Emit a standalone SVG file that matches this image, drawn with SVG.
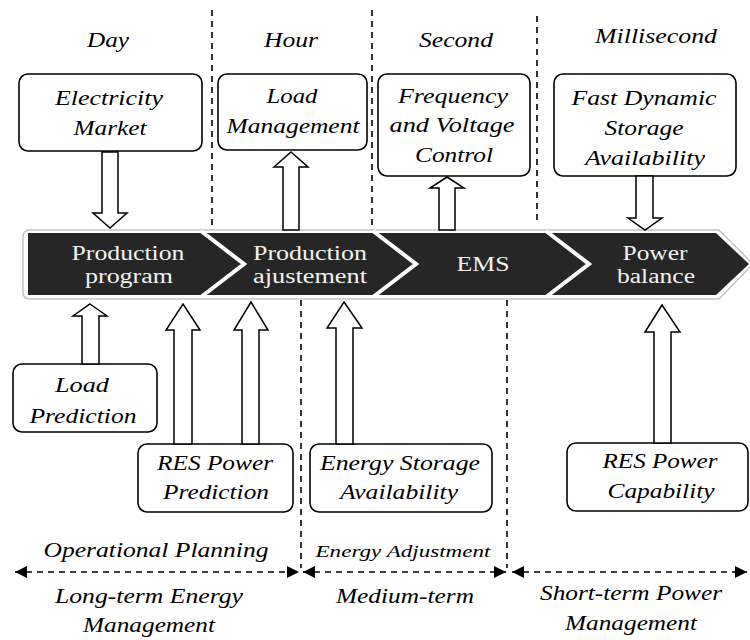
<svg xmlns="http://www.w3.org/2000/svg" width="750" height="640" viewBox="0 0 750 640" font-family="Liberation Serif">
<defs>
<style>
.box{fill:#fff;stroke:#000;stroke-width:1.6}
.t{font-style:italic;font-size:21px;fill:#000;text-anchor:middle}
.s{font-size:17px}
.b{font-size:20px;fill:#f2f2f2;text-anchor:middle}
.arr{fill:#fff;stroke:#000;stroke-width:1.5;stroke-linejoin:miter}
.dash{stroke:#000;stroke-width:1.6;stroke-dasharray:6 5;fill:none}
.sep{fill:none;stroke:#fff;stroke-width:4;stroke-linejoin:miter}
</style>
<marker id="ah" viewBox="0 0 10 10" refX="10" refY="5" markerWidth="13" markerHeight="12" markerUnits="userSpaceOnUse" orient="auto-start-reverse">
<path d="M0,0 L10,5 L0,10 Z" fill="#000"/>
</marker>
</defs>
<rect width="750" height="640" fill="#fff"/>

<g id="timescales" font-family="Liberation Serif">
<text class="t" x="108" y="47" textLength="42" lengthAdjust="spacingAndGlyphs">Day</text>
<text class="t" x="291" y="47" textLength="54" lengthAdjust="spacingAndGlyphs">Hour</text>
<text class="t" x="456" y="47" textLength="74" lengthAdjust="spacingAndGlyphs">Second</text>
<text class="t" x="656" y="43" textLength="122" lengthAdjust="spacingAndGlyphs">Millisecond</text>
</g>

<g id="band">
<path d="M30,230 L719,230 L753,264 L719,299 L30,299 Q23,299 23,292 L23,237 Q23,230 30,230 Z" fill="#fff" stroke="#c4c4c4" stroke-width="1.5"/>
<path d="M28,233 L716,233 L749,264 L716,295 L28,295 Z" fill="#262626"/>
<polyline class="sep" points="201,231 244,264 201,297"/>
<polyline class="sep" points="373,231 416,264 373,297"/>
<polyline class="sep" points="546,231 589,264 546,297"/>
</g>

<g id="production-program" font-family="Liberation Serif">
<text class="b" x="128" y="260" textLength="113" lengthAdjust="spacingAndGlyphs">Production</text>
<text class="b" x="129" y="283" textLength="88" lengthAdjust="spacingAndGlyphs">program</text>
</g>
<g id="production-ajustement" font-family="Liberation Serif">
<text class="b" x="310" y="260" textLength="114" lengthAdjust="spacingAndGlyphs">Production</text>
<text class="b" x="310" y="283" textLength="114" lengthAdjust="spacingAndGlyphs">ajustement</text>
</g>
<g id="ems" font-family="Liberation Serif">
<text class="b" x="483" y="271" textLength="53" lengthAdjust="spacingAndGlyphs">EMS</text>
</g>
<g id="power-balance" font-family="Liberation Serif">
<text class="b" x="655" y="260" textLength="65" lengthAdjust="spacingAndGlyphs">Power</text>
<text class="b" x="656" y="283" textLength="78" lengthAdjust="spacingAndGlyphs">balance</text>
</g>

<g id="electricity-market" font-family="Liberation Serif">
<rect class="box" x="19" y="74" width="183" height="77" rx="9"/>
<text class="t" x="109" y="105" textLength="108" lengthAdjust="spacingAndGlyphs">Electricity</text>
<text class="t" x="110" y="135" textLength="73" lengthAdjust="spacingAndGlyphs">Market</text>
</g>
<g id="load-management" font-family="Liberation Serif">
<rect class="box" x="218" y="74" width="149" height="76" rx="9"/>
<text class="t" x="292" y="103" textLength="51" lengthAdjust="spacingAndGlyphs">Load</text>
<text class="t" x="293" y="133" textLength="133" lengthAdjust="spacingAndGlyphs">Management</text>
</g>
<g id="frequency-voltage-control" font-family="Liberation Serif">
<rect class="box" x="378" y="74" width="152" height="102" rx="9"/>
<text class="t" x="453" y="103" textLength="110" lengthAdjust="spacingAndGlyphs">Frequency</text>
<text class="t" x="452" y="132" textLength="125" lengthAdjust="spacingAndGlyphs">and Voltage</text>
<text class="t" x="454" y="162" textLength="78" lengthAdjust="spacingAndGlyphs">Control</text>
</g>
<g id="fast-dynamic-storage" font-family="Liberation Serif">
<rect class="box" x="554" y="74" width="182" height="102" rx="9"/>
<text class="t" x="644" y="105" textLength="145" lengthAdjust="spacingAndGlyphs">Fast Dynamic</text>
<text class="t" x="644" y="135" textLength="79" lengthAdjust="spacingAndGlyphs">Storage</text>
<text class="t" x="645" y="165" textLength="120" lengthAdjust="spacingAndGlyphs">Availability</text>
</g>

<g id="load-prediction" font-family="Liberation Serif">
<rect class="box" x="13" y="364" width="144" height="68" rx="9"/>
<text class="t" x="82" y="392" textLength="54" lengthAdjust="spacingAndGlyphs">Load</text>
<text class="t" x="83" y="423" textLength="107" lengthAdjust="spacingAndGlyphs">Prediction</text>
</g>
<g id="res-power-prediction" font-family="Liberation Serif">
<rect class="box" x="138" y="444" width="155" height="68" rx="9"/>
<text class="t" x="215" y="470" textLength="116" lengthAdjust="spacingAndGlyphs">RES Power</text>
<text class="t" x="216" y="499" textLength="106" lengthAdjust="spacingAndGlyphs">Prediction</text>
</g>
<g id="energy-storage-availability" font-family="Liberation Serif">
<rect class="box" x="310" y="444" width="182" height="68" rx="9"/>
<text class="t" x="400" y="470" textLength="160" lengthAdjust="spacingAndGlyphs">Energy Storage</text>
<text class="t" x="399" y="499" textLength="118" lengthAdjust="spacingAndGlyphs">Availability</text>
</g>
<g id="res-power-capability" font-family="Liberation Serif">
<rect class="box" x="567" y="443" width="181" height="68" rx="9"/>
<text class="t" x="660" y="468" textLength="115" lengthAdjust="spacingAndGlyphs">RES Power</text>
<text class="t" x="661" y="498" textLength="107" lengthAdjust="spacingAndGlyphs">Capability</text>
</g>

<g id="horizons" font-family="Liberation Serif">
<text class="t" x="156" y="557" textLength="225" lengthAdjust="spacingAndGlyphs">Operational Planning</text>
<text class="t s" x="403" y="557" textLength="175" lengthAdjust="spacingAndGlyphs">Energy Adjustment</text>
<text class="t" x="149" y="603" textLength="188" lengthAdjust="spacingAndGlyphs">Long-term Energy</text>
<text class="t" x="149" y="632" textLength="132" lengthAdjust="spacingAndGlyphs">Management</text>
<text class="t" x="405" y="603" textLength="138" lengthAdjust="spacingAndGlyphs">Medium-term</text>
<text class="t" x="631" y="600" textLength="182" lengthAdjust="spacingAndGlyphs">Short-term Power</text>
<text class="t" x="631" y="630" textLength="132" lengthAdjust="spacingAndGlyphs">Management</text>
</g>

<g id="connectors">
<line class="dash" x1="212" y1="10" x2="212" y2="225"/>
<line class="dash" x1="372" y1="10" x2="372" y2="225"/>
<line class="dash" x1="537" y1="16" x2="537" y2="225"/>
<line class="dash" x1="301" y1="300" x2="301" y2="568"/>
<line class="dash" x1="507" y1="300" x2="507" y2="568"/>
<line class="dash" x1="15" y1="572" x2="299" y2="572" marker-start="url(#ah)" marker-end="url(#ah)"/>
<line class="dash" x1="303" y1="572" x2="506" y2="572" marker-start="url(#ah)" marker-end="url(#ah)"/>
<line class="dash" x1="512" y1="572" x2="747" y2="572" marker-start="url(#ah)" marker-end="url(#ah)"/>

<polygon class="arr" points="102,152 118,152 118,213 127,213 110,228 93,213 102,213"/>
<polygon class="arr" points="291,152 308,167 299,167 299,230 283,230 283,167 274,167"/>
<polygon class="arr" points="447,177 464,188 455,188 455,230 439,230 439,188 430,188"/>
<polygon class="arr" points="636,176 653,176 653,218 662,218 645,230 628,218 636,218"/>

<polygon class="arr" points="90,304 107,316 99,316 99,364 82,364 82,316 73,316"/>
<polygon class="arr" points="183,304 200,330 192,330 192,444 174,444 174,330 166,330"/>
<polygon class="arr" points="251,302 268,330 259,330 259,444 242,444 242,330 234,330"/>
<polygon class="arr" points="344,302 362,328 353,328 353,444 336,444 336,328 327,328"/>
<polygon class="arr" points="662,305 680,332 671,332 671,443 654,443 654,332 645,332"/>
</g>
</svg>
